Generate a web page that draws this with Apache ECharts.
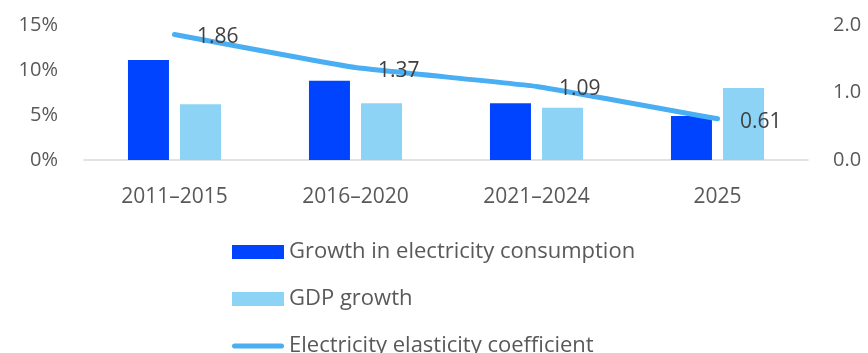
<!DOCTYPE html>
<html>
<head>
<meta charset="utf-8">
<script src="https://cdn.jsdelivr.net/npm/echarts@6/dist/echarts.min.js"></script>
<style>html,body{margin:0;padding:0;background:#fff}#c{width:868px;height:353px}</style>
</head>
<body>
<div id="c"></div>
<script>
const categories = ['2011–2015', '2016–2020', '2021–2024', '2025'];
const electricityGrowth = [11.1, 8.8, 6.3, 4.9];
const gdpGrowth = [6.2, 6.3, 5.8, 8.0];
const elasticity = [1.86, 1.37, 1.09, 0.61];
const leftTicks = [0, 5, 10, 15];
const rightTicks = [0, 1, 2];

const FONT = 'Open Sans';
const chart = echarts.init(document.getElementById('c'), null, {renderer: 'canvas'});
chart.setOption({
  animation: false,
  textStyle: {fontFamily: FONT},
  grid: {left: 84, right: 60, top: 25, bottom: 193, containLabel: false},
  legend: {
    orient: 'vertical',
    left: 232,
    top: 241,
    height: 140,
    padding: 0,
    itemWidth: 52,
    itemHeight: 14,
    itemGap: 25,
    textStyle: {fontFamily: FONT, fontSize: 22, color: '#595959'},
    data: [
      {name: 'Growth in electricity consumption', icon: 'rect'},
      {name: 'GDP growth', icon: 'rect'},
      {name: 'Electricity elasticity coefficient', icon: 'path://M2.5,0 H49.5 A2.5,2.5 0 0 1 49.5,5 H2.5 A2.5,2.5 0 0 1 2.5,0 Z'}
    ]
  },
  xAxis: {
    type: 'category',
    data: categories,
    axisLine: {lineStyle: {color: '#d9d9d9', width: 1.5}},
    axisTick: {show: false},
    axisLabel: {fontFamily: FONT, fontSize: 21, color: '#595959', margin: 27}
  },
  yAxis: [{
    type: 'value',
    min: leftTicks[0], max: leftTicks[leftTicks.length - 1], interval: 5,
    axisLine: {show: false}, axisTick: {show: false}, splitLine: {show: false},
    axisLabel: {fontFamily: FONT, fontSize: 20, color: '#595959', margin: 26, padding: [3, 0, 0, 0], formatter: v => v + '%'}
  }, {
    type: 'value',
    min: rightTicks[0], max: rightTicks[rightTicks.length - 1], interval: 1,
    axisLine: {show: false}, axisTick: {show: false}, splitLine: {show: false},
    axisLabel: {fontFamily: FONT, fontSize: 20, color: '#595959', margin: 25, padding: [3, 0, 0, 0], formatter: v => v.toFixed(1)}
  }],
  series: [{
    name: 'Growth in electricity consumption',
    type: 'bar',
    data: electricityGrowth,
    barWidth: 41,
    barGap: '27%',
    itemStyle: {color: '#0044FF'}
  }, {
    name: 'GDP growth',
    type: 'bar',
    data: gdpGrowth,
    barWidth: 41,
    itemStyle: {color: '#8DD3F5'}
  }, {
    name: 'Electricity elasticity coefficient',
    type: 'line',
    yAxisIndex: 1,
    data: elasticity,
    symbol: 'circle',
    symbolSize: 1,
    showSymbol: true,
    smooth: 0.1,
    lineStyle: {color: '#4AAEF3', width: 5, cap: 'round'},
    itemStyle: {color: '#4AAEF3'},
    label: {show: true, position: 'right', distance: 22, offset: [0, 3], fontFamily: FONT, fontSize: 21, color: '#404040', formatter: p => p.value.toFixed(2)}
  }]
});
</script>
</body>
</html>
